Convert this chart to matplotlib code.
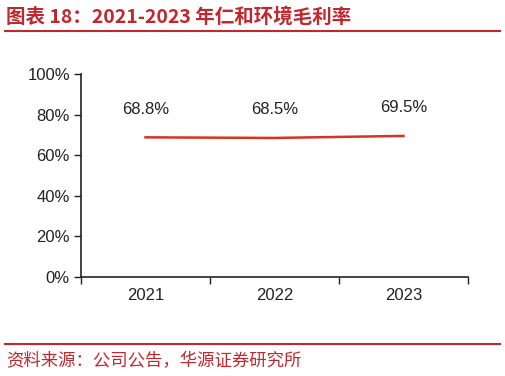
import matplotlib
matplotlib.use("Agg")
import matplotlib.pyplot as plt
from matplotlib.lines import Line2D
from matplotlib.ticker import PercentFormatter

years = ["2021", "2022", "2023"]
margin = [0.688, 0.685, 0.695]
labels = ["68.8%", "68.5%", "69.5%"]

plt.rcParams['font.family'] = ['Liberation Sans', 'Noto Sans CJK SC', 'DejaVu Sans']
red = "#C0282E"

fig = plt.figure(figsize=(5.06, 3.76), dpi=100)
ax = fig.add_axes([81/506, 1-277/376, (468-81)/506, (277-74)/376])

x = list(range(len(years)))
ax.plot(x, margin, color="#D9321E", lw=1.8)
for xi, v, t in zip(x, margin, labels):
    ax.annotate(t, (xi, v), xytext=(0, 28), textcoords="offset pixels",
                ha="center", va="center", fontsize=12, color="#222222")

ax.set_xlim(-0.5, 2.5)
ax.set_ylim(0, 1)
ax.set_yticks([0, 0.2, 0.4, 0.6, 0.8, 1.0])
ax.yaxis.set_major_formatter(PercentFormatter(1.0, decimals=0))
ax.set_xticks([-0.5, 0.5, 1.5, 2.5])
ax.set_xticklabels([])
ax.set_xticks(x, minor=True)
ax.set_xticklabels(years, minor=True)
ax.tick_params(axis='x', which='minor', length=0, pad=8, labelsize=12, colors="#222222")
ax.tick_params(axis='x', which='major', length=5, direction='out', width=1, color="#222222")
ax.tick_params(axis='y', length=5, direction='out', width=1, labelsize=12, colors="#222222", pad=3)
for s in ["top", "right"]:
    ax.spines[s].set_visible(False)
for s in ["left", "bottom"]:
    ax.spines[s].set_linewidth(1.2)
    ax.spines[s].set_color("#222222")

fig.text(6/506, 1-17/376, "图表 18：2021-2023 年仁和环境毛利率", color=red, fontsize=14,
         fontweight="bold", va="center", ha="left", family=['Noto Sans CJK SC', 'DejaVu Sans'])
fig.add_artist(Line2D([5/506, 500/506], [1-30.5/376, 1-30.5/376], color=red, lw=1.5))
fig.add_artist(Line2D([5/506, 500/506], [1-343.5/376, 1-343.5/376], color=red, lw=1.5))
fig.text(6/506, 1-361/376, "资料来源：公司公告，华源证券研究所", color=red, fontsize=12.5,
         va="center", ha="left", family=['Noto Sans CJK SC', 'DejaVu Sans'])

fig.savefig("out.png", dpi=100)
